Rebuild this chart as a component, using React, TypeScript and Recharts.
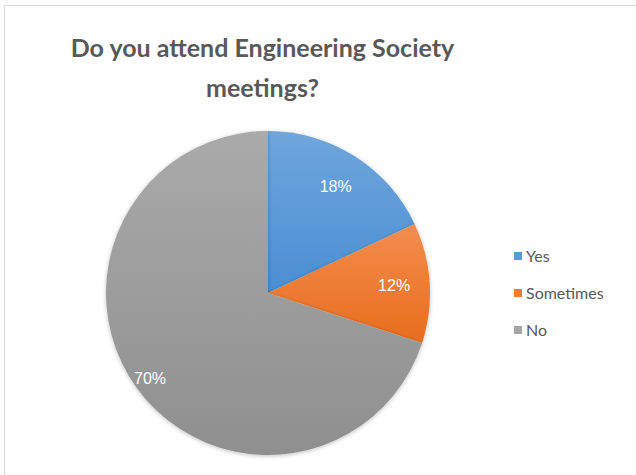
import { PieChart, Pie, Cell, Legend } from "recharts";

const categories = ["Yes", "Sometimes", "No"];
const shares = [18, 12, 70];
const labels = ["18%", "12%", "70%"];

const colors = [
  { top: "#6fa6dc", bottom: "#4a8ed3", legend: "#5b9bd5" },
  { top: "#f38d4f", bottom: "#e86d1c", legend: "#ed7d31" },
  { top: "#aaaaaa", bottom: "#8f8f8f", legend: "#a5a5a5" },
];

const data = categories.map((name, i) => ({ name, value: shares[i], label: labels[i] }));

const RAD = Math.PI / 180;

const renderLabel = (props: any) => {
  const { cx, cy, midAngle, outerRadius, index } = props;
  const r = outerRadius * (index === 2 ? 0.9 : 0.78);
  const x = cx + r * Math.cos(-midAngle * RAD);
  const y = cy + r * Math.sin(-midAngle * RAD);
  return (
    <text
      x={x}
      y={y}
      fill="#ffffff"
      textAnchor="middle"
      dominantBaseline="central"
      style={{ fontFamily: "Liberation Sans, Arial, sans-serif", fontSize: 16 }}
    >
      {data[index].label}
    </text>
  );
};

const renderLegend = () => (
  <div style={{ fontFamily: "Lato, Calibri, sans-serif", fontSize: 16, color: "#595959" }}>
    {data.map((d, i) => (
      <div key={d.name} style={{ display: "flex", alignItems: "center", height: 37 }}>
        <span
          style={{
            display: "inline-block",
            width: 8,
            height: 8,
            backgroundColor: colors[i].legend,
            marginRight: 4,
          }}
        />
        {d.name}
      </div>
    ))}
  </div>
);

export default function App() {
  return (
    <div
      style={{
        position: "fixed",
        left: 0,
        top: 0,
        width: 636,
        height: 475,
        overflow: "hidden",
        background: "#fff",
      }}
    >
      <div
        style={{
          position: "absolute",
          left: 4,
          top: 5,
          width: 700,
          height: 600,
          border: "1.5px solid #d9d9d9",
        }}
      />
      <div
        style={{
          position: "absolute",
          left: 0,
          top: 27,
          width: 525,
          textAlign: "center",
          fontFamily: "Lato, Calibri, sans-serif",
          fontWeight: 700,
          fontSize: 25,
          lineHeight: "40px",
          color: "#595959",
        }}
      >
        Do you attend Engineering Society
        <br />
        meetings?
      </div>
      <div style={{ position: "absolute", left: 0, top: 0 }}>
        <PieChart width={636} height={475} margin={{ top: 0, right: 0, bottom: 0, left: 0 }}>
          <defs>
            {colors.map((c, i) => (
              <linearGradient key={i} id={`g${i}`} x1="0" y1="0" x2="0" y2="1">
                <stop offset="0%" stopColor={c.top} />
                <stop offset="100%" stopColor={c.bottom} />
              </linearGradient>
            ))}
            <filter id="shadow" x="-10%" y="-10%" width="120%" height="120%">
              <feDropShadow dx="0" dy="1" stdDeviation="2" floodColor="#000" floodOpacity="0.25" />
            </filter>
          </defs>
          <Pie
            data={data}
            dataKey="value"
            nameKey="name"
            cx={268}
            cy={293}
            outerRadius={162}
            startAngle={90}
            endAngle={-270}
            stroke="none"
            label={renderLabel}
            labelLine={false}
            isAnimationActive={false}
            style={{ filter: "url(#shadow)" }}
          >
            {data.map((d, i) => (
              <Cell key={d.name} fill={`url(#g${i})`} />
            ))}
          </Pie>
          <Legend
            layout="vertical"
            align="right"
            verticalAlign="top"
            content={renderLegend}
            wrapperStyle={{ left: 514, top: 237, width: 120 }}
          />
        </PieChart>
      </div>
    </div>
  );
}
